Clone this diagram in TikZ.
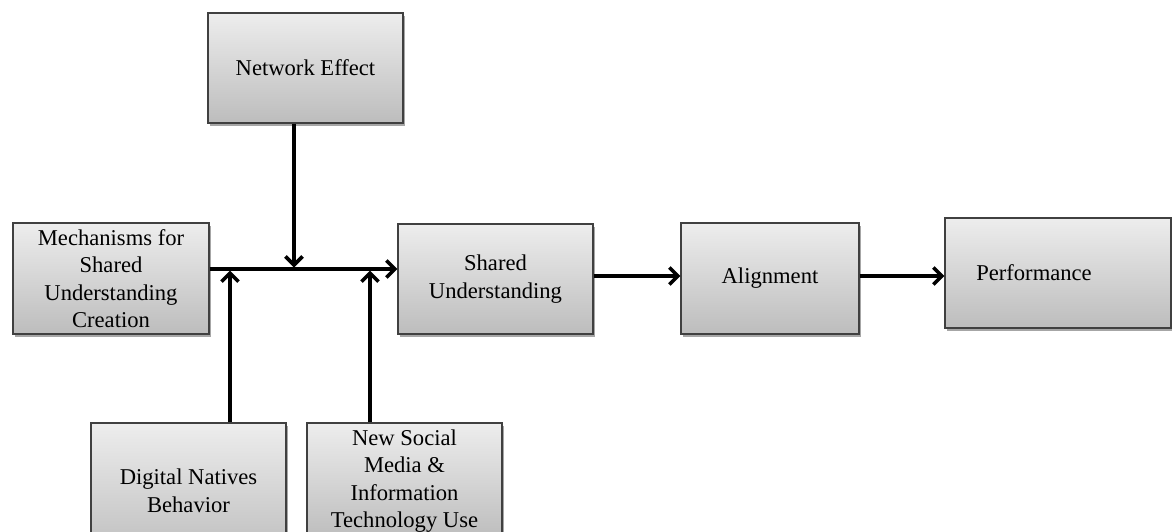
\documentclass[tikz,border=0pt]{standalone}
\usepackage{fontspec}
\setmainfont{Liberation Serif}
\usetikzlibrary{arrows.meta,shadows}
\begin{document}
\begin{tikzpicture}[x=1pt,y=-1pt,
  blk/.style={draw=black!75, line width=1.3pt, top color=gray!14, bottom color=gray!52,
    align=center, inner sep=0pt, font=\fontsize{22.6}{27.5}\selectfont,
    drop shadow={shadow xshift=2pt, shadow yshift=-2.5pt, opacity=0.35, fill=black}},
  flow/.style={line width=3.6pt, -{Straight Barb[length=8.5pt,width=17pt]}}]
  % page frame
  \fill[white] (0,0) rectangle (1172,531);
  \clip (0,0) rectangle (1172,531);

  % boxes
  \node[blk, minimum width=195pt, minimum height=110pt] (net) at (305.5,68) {Network Effect};
  \node[blk, minimum width=196pt, minimum height=111pt] (mech) at (111,278.5)
    {Mechanisms for\\Shared\\Understanding\\Creation};
  \node[blk, minimum width=195pt, minimum height=110pt] (shared) at (495.5,279)
    {Shared\\Understanding};
  \node[blk, minimum width=178pt, minimum height=111pt] (align) at (770,278.5) {Alignment};
  \node[blk, minimum width=226pt, minimum height=110pt] (perf) at (1058,273)
    {Performance\hspace*{48pt}};
  \node[blk, minimum width=195pt, minimum height=136pt] (dig) at (188.5,491)
    {Digital Natives\\Behavior};
  \node[blk, minimum width=195pt, minimum height=116pt] (nsm) at (404.5,481)
    {New Social\\Media \&\\Information\\Technology Use};

  % connector anchors
  \coordinate (j0) at ([yshift=9.5pt]mech.east);
  \coordinate (n0) at ([xshift=-11.5pt]net.south);
  \coordinate (d0) at ([xshift=41.5pt]dig.north);
  \coordinate (s0) at ([xshift=-34.5pt]nsm.north);
  \coordinate (a0) at ([yshift=3pt]shared.east);
  \coordinate (b0) at ([yshift=2.5pt]align.east);

  % connectors
  \draw[flow] (j0) -- (j0 -| shared.west);
  \draw[flow] (n0) -- ([yshift=1.5pt]n0 |- j0);
  \draw[flow] (d0) -- ([yshift=-1.5pt]d0 |- j0);
  \draw[flow] (s0) -- ([yshift=-1.5pt]s0 |- j0);
  \draw[flow] (a0) -- (a0 -| align.west);
  \draw[flow] (b0) -- (b0 -| perf.west);
\end{tikzpicture}
\end{document}
